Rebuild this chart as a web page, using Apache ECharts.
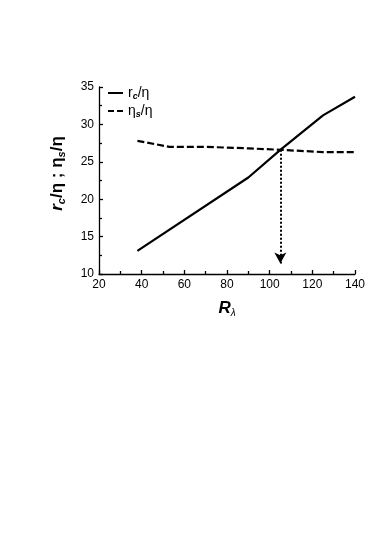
<!DOCTYPE html>
<html>
<head>
<meta charset="UTF-8">
<title></title>
<script src="https://cdn.jsdelivr.net/npm/echarts@6/dist/echarts.min.js"></script>
<style>
  html, body { margin: 0; padding: 0; background: #fff; }
  #main { width: 374px; height: 539px; }
</style>
</head>
<body>
<div id="main"></div>
<script>
  // r_c / eta against R_lambda
  var rcX = [38, 90, 105, 125, 140];
  var rcY = [13.1, 22.9, 26.6, 31.2, 33.7];
  // eta_s / eta against R_lambda
  var etaX = [38, 53, 70, 90, 105, 125, 140];
  var etaY = [27.8, 27.0, 27.0, 26.8, 26.6, 26.3, 26.3];
  // dotted arrow from the crossing down to the axis
  var arrowX = [105, 105];
  var arrowY = [26.6, 11.4];

  function pairs(xs, ys) {
    return xs.map(function (x, i) { return [x, ys[i]]; });
  }

  var font = '"Liberation Sans", Arial, sans-serif';
  var myChart = echarts.init(document.getElementById('main'));

  myChart.setOption({
    animation: false,
    grid: { left: 99, right: 19, top: 87, bottom: 265 },
    legend: {
      orient: 'vertical',
      left: 108,
      top: 86,
      padding: 0,
      itemWidth: 15,
      itemHeight: 2,
      itemGap: 3,
      textStyle: {
        fontFamily: font,
        color: '#000',
        rich: {
          n: { fontSize: 14, fontFamily: font, lineHeight: 16, color: '#000' },
          s: { fontSize: 9, fontFamily: font, fontStyle: 'italic', fontWeight: 'bold', lineHeight: 7, verticalAlign: 'bottom', color: '#000' }
        }
      },
      formatter: function (name) {
        if (name === 'rc') return '{n|r}{s|c}{n|/η}';
        return '{n|η}{s|s}{n|/η}';
      },
      data: [
        { name: 'rc', icon: 'path://M0,0h15v2h-15z' },
        { name: 'eta', icon: 'path://M0,0h6v2h-6zM9,0h6v2h-6z' }
      ]
    },
    xAxis: {
      type: 'value',
      min: 20,
      max: 140,
      interval: 20,
      name: '{b|R}{s|λ}',
      nameLocation: 'middle',
      nameGap: 24,
      nameTextStyle: {
        rich: {
          b: { fontSize: 17, fontFamily: font, fontWeight: 'bold', fontStyle: 'italic', lineHeight: 20, color: '#000' },
          s: { fontSize: 10, fontFamily: font, fontStyle: 'italic', lineHeight: 9, verticalAlign: 'bottom', color: '#000' }
        }
      },
      axisLine: { lineStyle: { color: '#000', width: 1.3 } },
      axisTick: { inside: true, length: 4, lineStyle: { color: '#000', width: 1.3 } },
      minorTick: { show: true, splitNumber: 2, length: 3, lineStyle: { color: '#000', width: 1.3 } },
      axisLabel: { color: '#000', fontSize: 12, fontFamily: font, margin: 5 },
      splitLine: { show: false }
    },
    yAxis: {
      type: 'value',
      min: 10,
      max: 35,
      interval: 5,
      name: '{r|r}{s|c}{n|/η ; η}{s|s}{n|/η}',
      nameLocation: 'middle',
      nameRotate: 90,
      nameGap: 32,
      nameTextStyle: {
        padding: [0, 0, 0, 14],
        rich: {
          r: { fontSize: 17, fontFamily: font, fontWeight: 'bold', fontStyle: 'italic', lineHeight: 20, color: '#000' },
          n: { fontSize: 17, fontFamily: font, fontWeight: 'bold', lineHeight: 20, color: '#000' },
          s: { fontSize: 11, fontFamily: font, fontWeight: 'bold', fontStyle: 'italic', lineHeight: 10, verticalAlign: 'bottom', color: '#000' }
        }
      },
      axisLine: { show: true, lineStyle: { color: '#000', width: 1.3 } },
      axisTick: { show: true, inside: true, length: 4, lineStyle: { color: '#000', width: 1.3 } },
      minorTick: { show: true, splitNumber: 2, length: 3, lineStyle: { color: '#000', width: 1.3 } },
      axisLabel: { color: '#000', fontSize: 12, fontFamily: font, margin: 5 },
      splitLine: { show: false }
    },
    series: [
      {
        name: 'rc',
        type: 'line',
        data: pairs(rcX, rcY),
        showSymbol: false,
        symbol: 'none',
        lineStyle: { color: '#000', width: 2.2 },
        itemStyle: { color: '#000' },
        markLine: {
          silent: true,
          symbol: ['none', 'arrow'],
          symbolSize: [9, 11],
          label: { show: false },
          lineStyle: { color: '#000', width: 2, type: [2, 2] },
          itemStyle: { color: '#000' },
          data: [[
            { coord: [arrowX[0], arrowY[0]] },
            { coord: [arrowX[1], arrowY[1]] }
          ]]
        }
      },
      {
        name: 'eta',
        type: 'line',
        data: pairs(etaX, etaY),
        showSymbol: false,
        symbol: 'none',
        lineStyle: { color: '#000', width: 2.2, type: [7, 3] },
        itemStyle: { color: '#000' }
      }
    ]
  });
</script>
</body>
</html>
